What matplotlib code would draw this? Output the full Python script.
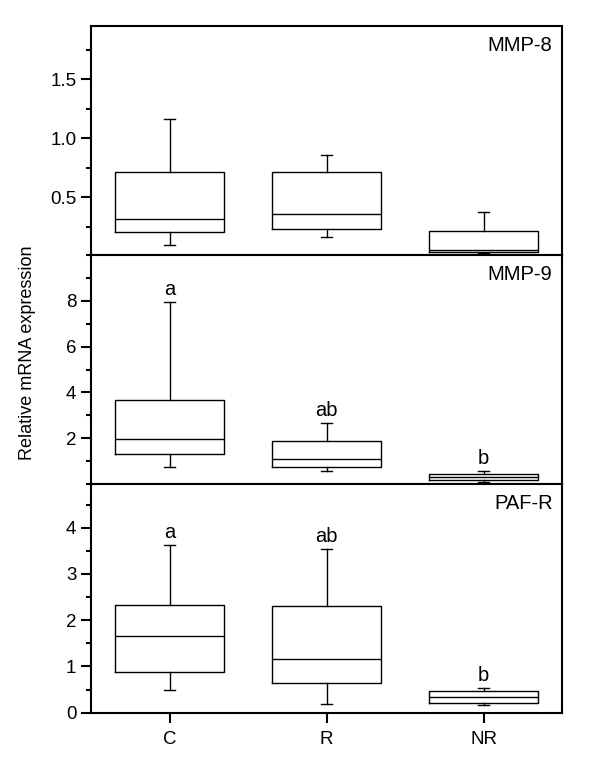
import numpy as np
import matplotlib
matplotlib.use('Agg')
import matplotlib.pyplot as plt
from matplotlib.ticker import MultipleLocator

plt.rcParams['font.family'] = ['Liberation Sans', 'DejaVu Sans']

groups = ['C', 'R', 'NR']
genes = ['MMP-8', 'MMP-9', 'PAF-R']

# box stats: whislo, q1, median, q3, whishi
mmp8_stats = [[0.093, 0.206, 0.319, 0.717, 1.161],
              [0.164, 0.234, 0.361, 0.717, 0.861],
              [0.025, 0.039, 0.053, 0.212, 0.373]]
mmp9_stats = [[0.73, 1.30, 1.97, 3.68, 7.95],
              [0.58, 0.74, 1.07, 1.88, 2.67],
              [0.10, 0.17, 0.30, 0.43, 0.57]]
pafr_stats = [[0.48, 0.88, 1.66, 2.32, 3.63],
              [0.19, 0.64, 1.15, 2.31, 3.54],
              [0.17, 0.22, 0.33, 0.46, 0.53]]

mmp9_letters = ['a', 'ab', 'b']
pafr_letters = ['a', 'ab', 'b']

all_stats = [mmp8_stats, mmp9_stats, pafr_stats]
all_letters = [None, mmp9_letters, pafr_letters]
ylims = [(0.01, 1.95), (0, 10), (0, 4.95)]
majors = [0.5, 2, 1]
starts = [0.5, 2, 0]

fig = plt.figure(figsize=(6, 7.8), dpi=100)
left, width = 91 / 600, 471 / 600
h = 229 / 780
bottoms = [1 - 255 / 780, 1 - 484 / 780, 1 - 712.7 / 780]

pos = np.arange(1, len(groups) + 1)
for k in range(3):
    ax = fig.add_axes([left, bottoms[k], width, h])
    bxp = []
    for s in all_stats[k]:
        bxp.append({'whislo': s[0], 'q1': s[1], 'med': s[2], 'q3': s[3],
                    'whishi': s[4], 'fliers': []})
    ax.bxp(bxp, positions=pos, widths=0.7, capwidths=0.075, showfliers=False,
           boxprops=dict(color='black', linewidth=1),
           medianprops=dict(color='black', linewidth=1),
           whiskerprops=dict(color='black', linewidth=1),
           capprops=dict(color='black', linewidth=1))
    ax.set_xlim(0.5, 3.5)
    ax.set_ylim(*ylims[k])
    lo, hi = ylims[k]
    ticks = np.arange(starts[k], hi, majors[k])
    ax.set_yticks(ticks)
    if k == 0:
        ax.set_yticklabels(['%.1f' % t for t in ticks])
    else:
        ax.set_yticklabels(['%d' % t for t in ticks])
    ax.yaxis.set_minor_locator(MultipleLocator(majors[k] / 2))
    ax.tick_params(axis='y', which='major', direction='out', length=7, width=1.5, labelsize=13.5)
    ax.tick_params(axis='y', which='minor', direction='out', length=3.5, width=1.5)
    for sp in ax.spines.values():
        sp.set_linewidth(1.5)
    if k < 2:
        ax.set_xticks(pos)
        ax.tick_params(axis='x', length=0, labelbottom=False)
    else:
        ax.set_xticks(pos)
        ax.set_xticklabels(groups)
        ax.tick_params(axis='x', direction='out', length=7, width=1.5, labelsize=13.5, pad=6)
    ax.text(0.98, 0.955, genes[k], transform=ax.transAxes, ha='right', va='top', fontsize=14.5)
    if all_letters[k] is not None:
        for i, lab in enumerate(all_letters[k]):
            ax.annotate(lab, (pos[i], all_stats[k][i][4]), xytext=(0, 5),
                        textcoords='offset points', ha='center', va='baseline', fontsize=14.5)

fig.text(28 / 600, 1 - 353 / 780, 'Relative mRNA expression', rotation=90,
         ha='center', va='center', fontsize=13)

fig.savefig('out.png', dpi=100)
